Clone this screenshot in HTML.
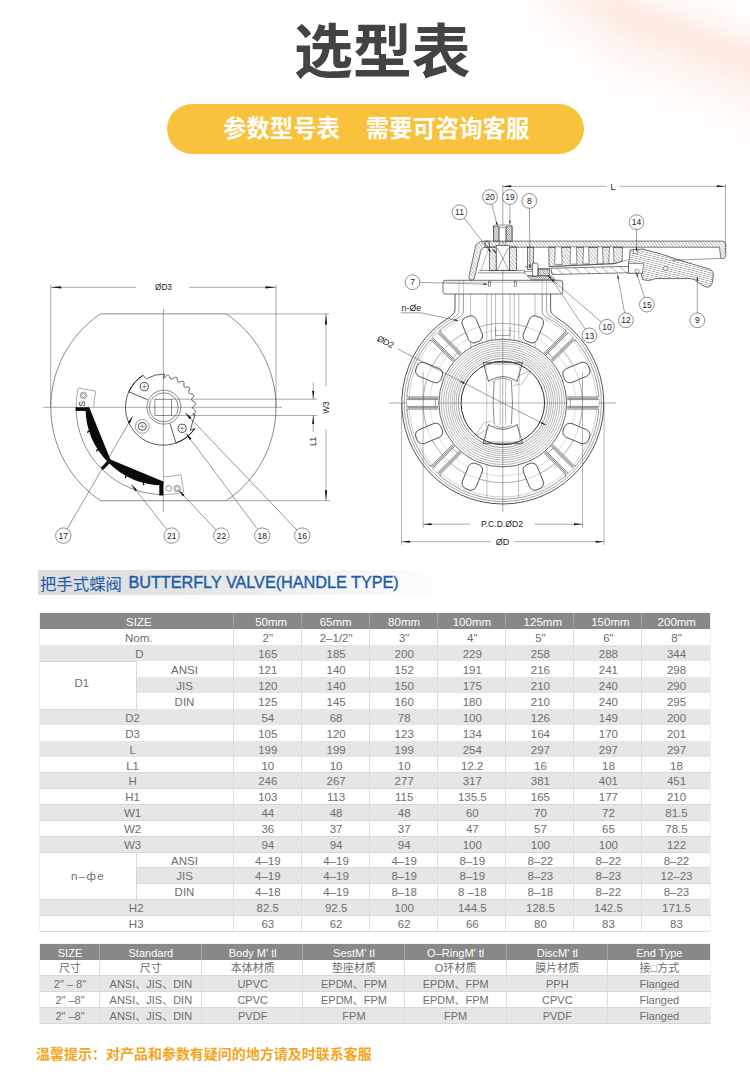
<!DOCTYPE html>
<html><head><meta charset="utf-8"><title>Selection table</title>
<style>
html,body{margin:0;padding:0;background:#fff;}
body{width:750px;height:1092px;position:relative;overflow:hidden;font-family:"Liberation Sans","Noto Sans CJK SC",sans-serif;}
.abs{position:absolute;}
.t{position:absolute;font-size:11.5px;color:#6e6e6e;text-align:center;white-space:nowrap;line-height:16px;height:16px;}
.hd{color:#fff;}
.row{position:absolute;left:40px;width:670px;}
.dg text{font-family:"Liberation Sans",sans-serif;fill:#222;}
</style></head><body>

<svg class="abs" style="left:400px;top:0" width="350" height="220" viewBox="400 0 350 220">
<defs>
<linearGradient id="pk1" gradientUnits="userSpaceOnUse" x1="693.4" y1="-17.5" x2="654.6" y2="85.5">
<stop offset="0" stop-color="#fde3d5" stop-opacity="0"/><stop offset=".28" stop-color="#fde3d5" stop-opacity=".28"/>
<stop offset=".42" stop-color="#fddfcf" stop-opacity=".55"/><stop offset=".55" stop-color="#fddfcf" stop-opacity=".55"/>
<stop offset=".72" stop-color="#fde3d5" stop-opacity=".25"/>
<stop offset="1" stop-color="#fde3d5" stop-opacity="0"/></linearGradient>
<linearGradient id="pk2" gradientUnits="userSpaceOnUse" x1="690" y1="-6" x2="640" y2="126">
<stop offset="0" stop-color="#feeee6" stop-opacity="0"/><stop offset=".45" stop-color="#feeee6" stop-opacity=".4"/>
<stop offset="1" stop-color="#feeee6" stop-opacity="0"/></linearGradient>
<linearGradient id="pkm" gradientUnits="userSpaceOnUse" x1="500" y1="0" x2="620" y2="0">
<stop offset="0" stop-color="#fff" stop-opacity="1"/><stop offset="1" stop-color="#fff" stop-opacity="0"/></linearGradient>
</defs>
<rect x="400" y="0" width="350" height="220" fill="url(#pk2)"/>
<rect x="400" y="0" width="350" height="220" fill="url(#pk1)"/>
<rect x="400" y="0" width="350" height="220" fill="url(#pkm)"/>
</svg>

<svg style="position:absolute;left:294.4px;top:16.07px;overflow:visible" width="176.70" height="71.40" viewBox="0 -56.52 176.70 71.40"><text x="0" y="0" font-size="58.9" font-weight="bold" fill="#434343" font-family="'Liberation Sans','Noto Sans CJK SC',sans-serif">选型表</text></svg>
<div class="abs" style="left:167px;top:104px;width:417px;height:50px;border-radius:25px;background:#f9c23c;"></div>
<svg style="position:absolute;left:222.6px;top:115.37px;overflow:visible" width="308.10" height="28.08" viewBox="0 -22.23 308.10 28.08"><text x="0" y="0" font-size="23.4" font-weight="bold" fill="#ffffff" font-family="'Liberation Sans','Noto Sans CJK SC',sans-serif">参数型号表</text><text x="142.7" y="0" font-size="23.4" font-weight="bold" fill="#ffffff" font-family="'Liberation Sans','Noto Sans CJK SC',sans-serif">需要可咨询客服</text></svg>
<div class="abs" style="left:38px;top:570px;width:420px;height:25px;background:linear-gradient(to right,#dcdcdc 0%,#e4e4e4 35%,#f4f4f4 70%,#ffffff 100%);"></div>
<svg style="position:absolute;left:40.2px;top:574.02px;overflow:visible" width="82.50" height="19.68" viewBox="0 -15.58 82.50 19.68"><text x="0" y="0" font-size="16.4" fill="#1b5ca8" font-family="'Liberation Sans','Noto Sans CJK SC',sans-serif">把手式蝶阀</text></svg>
<div class="abs" id="ttl" style="left:128.4px;top:572.4px;font-size:16.3px;line-height:20px;color:#1b5ca8;white-space:nowrap;letter-spacing:-0.05px;-webkit-text-stroke:0.35px #1b5ca8;">BUTTERFLY VALVE(HANDLE TYPE)</div>
<div class="abs" style="left:39.5px;top:613.3px;width:670.5px;height:318.20px;background:#fff;box-shadow:0 0 0 .5px #e2e2e2;"></div>
<div class="abs" style="left:40.0px;top:613.30px;width:670.0px;height:16.00px;background:#888888;"></div>
<div class="t hd" style="left:42.3px;width:193.0px;top:613.80px;">SIZE</div>
<div class="t hd" style="left:237.0px;width:68.39999999999998px;top:613.80px;">50mm</div>
<div class="t hd" style="left:301.59999999999997px;width:68.20000000000005px;top:613.80px;">65mm</div>
<div class="t hd" style="left:370.1px;width:68.0px;top:613.80px;">80mm</div>
<div class="t hd" style="left:437.8px;width:68.19999999999999px;top:613.80px;">100mm</div>
<div class="t hd" style="left:508.8px;width:67.99999999999994px;top:613.80px;">125mm</div>
<div class="t hd" style="left:576.4px;width:68.0px;top:613.80px;">150mm</div>
<div class="t hd" style="left:642.6999999999999px;width:68.20000000000005px;top:613.80px;">200mm</div>
<div class="abs" style="left:40.0px;top:629.30px;width:670.0px;height:16.00px;background:#ffffff;"></div>
<div class="abs" style="left:40.0px;top:644.70px;width:670.0px;height:.8px;background:#d8d8d8;"></div>
<div class="t" style="left:42.3px;width:193.0px;top:629.80px;">Nom.</div>
<div class="t" style="left:233.6px;width:68.39999999999998px;top:629.80px;">2"</div>
<div class="t" style="left:302.0px;width:68.20000000000005px;top:629.80px;">2–1/2"</div>
<div class="t" style="left:370.20000000000005px;width:68.0px;top:629.80px;">3"</div>
<div class="t" style="left:438.20000000000005px;width:68.19999999999999px;top:629.80px;">4"</div>
<div class="t" style="left:506.40000000000003px;width:67.99999999999994px;top:629.80px;">5"</div>
<div class="t" style="left:574.4px;width:68.0px;top:629.80px;">6"</div>
<div class="t" style="left:642.4px;width:68.20000000000005px;top:629.80px;">8"</div>
<div class="abs" style="left:40.0px;top:645.30px;width:670.0px;height:16.00px;background:#e6e6e6;"></div>
<div class="abs" style="left:40.0px;top:660.70px;width:670.0px;height:.8px;background:#d8d8d8;"></div>
<div class="t" style="left:42.8px;width:193.0px;top:645.80px;">D</div>
<div class="t" style="left:233.6px;width:68.39999999999998px;top:645.80px;">165</div>
<div class="t" style="left:302.0px;width:68.20000000000005px;top:645.80px;">185</div>
<div class="t" style="left:370.20000000000005px;width:68.0px;top:645.80px;">200</div>
<div class="t" style="left:438.20000000000005px;width:68.19999999999999px;top:645.80px;">229</div>
<div class="t" style="left:506.40000000000003px;width:67.99999999999994px;top:645.80px;">258</div>
<div class="t" style="left:574.4px;width:68.0px;top:645.80px;">288</div>
<div class="t" style="left:642.4px;width:68.20000000000005px;top:645.80px;">344</div>
<div class="abs" style="left:136.0px;top:661.30px;width:574.0px;height:16.00px;background:#ffffff;"></div>
<div class="abs" style="left:136.0px;top:676.70px;width:574.0px;height:.8px;background:#d8d8d8;"></div>
<div class="t" style="left:136.0px;width:97.0px;top:661.80px;">ANSI</div>
<div class="t" style="left:233.6px;width:68.39999999999998px;top:661.80px;">121</div>
<div class="t" style="left:302.0px;width:68.20000000000005px;top:661.80px;">140</div>
<div class="t" style="left:370.20000000000005px;width:68.0px;top:661.80px;">152</div>
<div class="t" style="left:438.20000000000005px;width:68.19999999999999px;top:661.80px;">191</div>
<div class="t" style="left:506.40000000000003px;width:67.99999999999994px;top:661.80px;">216</div>
<div class="t" style="left:574.4px;width:68.0px;top:661.80px;">241</div>
<div class="t" style="left:642.4px;width:68.20000000000005px;top:661.80px;">298</div>
<div class="abs" style="left:136.0px;top:677.30px;width:574.0px;height:16.00px;background:#e6e6e6;"></div>
<div class="abs" style="left:136.0px;top:692.70px;width:574.0px;height:.8px;background:#d8d8d8;"></div>
<div class="t" style="left:136.0px;width:97.0px;top:677.80px;">JIS</div>
<div class="t" style="left:233.6px;width:68.39999999999998px;top:677.80px;">120</div>
<div class="t" style="left:302.0px;width:68.20000000000005px;top:677.80px;">140</div>
<div class="t" style="left:370.20000000000005px;width:68.0px;top:677.80px;">150</div>
<div class="t" style="left:438.20000000000005px;width:68.19999999999999px;top:677.80px;">175</div>
<div class="t" style="left:506.40000000000003px;width:67.99999999999994px;top:677.80px;">210</div>
<div class="t" style="left:574.4px;width:68.0px;top:677.80px;">240</div>
<div class="t" style="left:642.4px;width:68.20000000000005px;top:677.80px;">290</div>
<div class="abs" style="left:136.0px;top:693.30px;width:574.0px;height:16.00px;background:#ffffff;"></div>
<div class="abs" style="left:136.0px;top:708.70px;width:574.0px;height:.8px;background:#d8d8d8;"></div>
<div class="t" style="left:136.0px;width:97.0px;top:693.80px;">DIN</div>
<div class="t" style="left:233.6px;width:68.39999999999998px;top:693.80px;">125</div>
<div class="t" style="left:302.0px;width:68.20000000000005px;top:693.80px;">145</div>
<div class="t" style="left:370.20000000000005px;width:68.0px;top:693.80px;">160</div>
<div class="t" style="left:438.20000000000005px;width:68.19999999999999px;top:693.80px;">180</div>
<div class="t" style="left:506.40000000000003px;width:67.99999999999994px;top:693.80px;">210</div>
<div class="t" style="left:574.4px;width:68.0px;top:693.80px;">240</div>
<div class="t" style="left:642.4px;width:68.20000000000005px;top:693.80px;">295</div>
<div class="abs" style="left:40.0px;top:709.30px;width:670.0px;height:16.00px;background:#e6e6e6;"></div>
<div class="abs" style="left:40.0px;top:724.70px;width:670.0px;height:.8px;background:#d8d8d8;"></div>
<div class="t" style="left:36.1px;width:193.0px;top:709.80px;">D2</div>
<div class="t" style="left:233.6px;width:68.39999999999998px;top:709.80px;">54</div>
<div class="t" style="left:302.0px;width:68.20000000000005px;top:709.80px;">68</div>
<div class="t" style="left:370.20000000000005px;width:68.0px;top:709.80px;">78</div>
<div class="t" style="left:438.20000000000005px;width:68.19999999999999px;top:709.80px;">100</div>
<div class="t" style="left:506.40000000000003px;width:67.99999999999994px;top:709.80px;">126</div>
<div class="t" style="left:574.4px;width:68.0px;top:709.80px;">149</div>
<div class="t" style="left:642.4px;width:68.20000000000005px;top:709.80px;">200</div>
<div class="abs" style="left:40.0px;top:725.30px;width:670.0px;height:16.00px;background:#ffffff;"></div>
<div class="abs" style="left:40.0px;top:740.70px;width:670.0px;height:.8px;background:#d8d8d8;"></div>
<div class="t" style="left:36.1px;width:193.0px;top:725.80px;">D3</div>
<div class="t" style="left:233.6px;width:68.39999999999998px;top:725.80px;">105</div>
<div class="t" style="left:302.0px;width:68.20000000000005px;top:725.80px;">120</div>
<div class="t" style="left:370.20000000000005px;width:68.0px;top:725.80px;">123</div>
<div class="t" style="left:438.20000000000005px;width:68.19999999999999px;top:725.80px;">134</div>
<div class="t" style="left:506.40000000000003px;width:67.99999999999994px;top:725.80px;">164</div>
<div class="t" style="left:574.4px;width:68.0px;top:725.80px;">170</div>
<div class="t" style="left:642.4px;width:68.20000000000005px;top:725.80px;">201</div>
<div class="abs" style="left:40.0px;top:741.30px;width:670.0px;height:16.00px;background:#e6e6e6;"></div>
<div class="abs" style="left:40.0px;top:756.70px;width:670.0px;height:.8px;background:#d8d8d8;"></div>
<div class="t" style="left:36.1px;width:193.0px;top:741.80px;">L</div>
<div class="t" style="left:233.6px;width:68.39999999999998px;top:741.80px;">199</div>
<div class="t" style="left:302.0px;width:68.20000000000005px;top:741.80px;">199</div>
<div class="t" style="left:370.20000000000005px;width:68.0px;top:741.80px;">199</div>
<div class="t" style="left:438.20000000000005px;width:68.19999999999999px;top:741.80px;">254</div>
<div class="t" style="left:506.40000000000003px;width:67.99999999999994px;top:741.80px;">297</div>
<div class="t" style="left:574.4px;width:68.0px;top:741.80px;">297</div>
<div class="t" style="left:642.4px;width:68.20000000000005px;top:741.80px;">297</div>
<div class="abs" style="left:40.0px;top:757.30px;width:670.0px;height:15.60px;background:#ffffff;"></div>
<div class="abs" style="left:40.0px;top:772.30px;width:670.0px;height:.8px;background:#d8d8d8;"></div>
<div class="t" style="left:36.1px;width:193.0px;top:757.60px;">L1</div>
<div class="t" style="left:233.6px;width:68.39999999999998px;top:757.60px;">10</div>
<div class="t" style="left:302.0px;width:68.20000000000005px;top:757.60px;">10</div>
<div class="t" style="left:370.20000000000005px;width:68.0px;top:757.60px;">10</div>
<div class="t" style="left:438.20000000000005px;width:68.19999999999999px;top:757.60px;">12.2</div>
<div class="t" style="left:506.40000000000003px;width:67.99999999999994px;top:757.60px;">16</div>
<div class="t" style="left:574.4px;width:68.0px;top:757.60px;">18</div>
<div class="t" style="left:642.4px;width:68.20000000000005px;top:757.60px;">18</div>
<div class="abs" style="left:40.0px;top:772.90px;width:670.0px;height:15.60px;background:#e6e6e6;"></div>
<div class="abs" style="left:40.0px;top:787.90px;width:670.0px;height:.8px;background:#d8d8d8;"></div>
<div class="t" style="left:36.1px;width:193.0px;top:773.20px;">H</div>
<div class="t" style="left:233.6px;width:68.39999999999998px;top:773.20px;">246</div>
<div class="t" style="left:302.0px;width:68.20000000000005px;top:773.20px;">267</div>
<div class="t" style="left:370.20000000000005px;width:68.0px;top:773.20px;">277</div>
<div class="t" style="left:438.20000000000005px;width:68.19999999999999px;top:773.20px;">317</div>
<div class="t" style="left:506.40000000000003px;width:67.99999999999994px;top:773.20px;">381</div>
<div class="t" style="left:574.4px;width:68.0px;top:773.20px;">401</div>
<div class="t" style="left:642.4px;width:68.20000000000005px;top:773.20px;">451</div>
<div class="abs" style="left:40.0px;top:788.50px;width:670.0px;height:16.00px;background:#ffffff;"></div>
<div class="abs" style="left:40.0px;top:803.90px;width:670.0px;height:.8px;background:#d8d8d8;"></div>
<div class="t" style="left:36.1px;width:193.0px;top:789.00px;">H1</div>
<div class="t" style="left:233.6px;width:68.39999999999998px;top:789.00px;">103</div>
<div class="t" style="left:302.0px;width:68.20000000000005px;top:789.00px;">113</div>
<div class="t" style="left:370.20000000000005px;width:68.0px;top:789.00px;">115</div>
<div class="t" style="left:438.20000000000005px;width:68.19999999999999px;top:789.00px;">135.5</div>
<div class="t" style="left:506.40000000000003px;width:67.99999999999994px;top:789.00px;">165</div>
<div class="t" style="left:574.4px;width:68.0px;top:789.00px;">177</div>
<div class="t" style="left:642.4px;width:68.20000000000005px;top:789.00px;">210</div>
<div class="abs" style="left:40.0px;top:804.50px;width:670.0px;height:16.00px;background:#e6e6e6;"></div>
<div class="abs" style="left:40.0px;top:819.90px;width:670.0px;height:.8px;background:#d8d8d8;"></div>
<div class="t" style="left:36.1px;width:193.0px;top:805.00px;">W1</div>
<div class="t" style="left:233.6px;width:68.39999999999998px;top:805.00px;">44</div>
<div class="t" style="left:302.0px;width:68.20000000000005px;top:805.00px;">48</div>
<div class="t" style="left:370.20000000000005px;width:68.0px;top:805.00px;">48</div>
<div class="t" style="left:438.20000000000005px;width:68.19999999999999px;top:805.00px;">60</div>
<div class="t" style="left:506.40000000000003px;width:67.99999999999994px;top:805.00px;">70</div>
<div class="t" style="left:574.4px;width:68.0px;top:805.00px;">72</div>
<div class="t" style="left:642.4px;width:68.20000000000005px;top:805.00px;">81.5</div>
<div class="abs" style="left:40.0px;top:820.50px;width:670.0px;height:16.00px;background:#ffffff;"></div>
<div class="abs" style="left:40.0px;top:835.90px;width:670.0px;height:.8px;background:#d8d8d8;"></div>
<div class="t" style="left:36.1px;width:193.0px;top:821.00px;">W2</div>
<div class="t" style="left:233.6px;width:68.39999999999998px;top:821.00px;">36</div>
<div class="t" style="left:302.0px;width:68.20000000000005px;top:821.00px;">37</div>
<div class="t" style="left:370.20000000000005px;width:68.0px;top:821.00px;">37</div>
<div class="t" style="left:438.20000000000005px;width:68.19999999999999px;top:821.00px;">47</div>
<div class="t" style="left:506.40000000000003px;width:67.99999999999994px;top:821.00px;">57</div>
<div class="t" style="left:574.4px;width:68.0px;top:821.00px;">65</div>
<div class="t" style="left:642.4px;width:68.20000000000005px;top:821.00px;">78.5</div>
<div class="abs" style="left:40.0px;top:836.50px;width:670.0px;height:16.00px;background:#e6e6e6;"></div>
<div class="abs" style="left:40.0px;top:851.90px;width:670.0px;height:.8px;background:#d8d8d8;"></div>
<div class="t" style="left:36.1px;width:193.0px;top:837.00px;">W3</div>
<div class="t" style="left:233.6px;width:68.39999999999998px;top:837.00px;">94</div>
<div class="t" style="left:302.0px;width:68.20000000000005px;top:837.00px;">94</div>
<div class="t" style="left:370.20000000000005px;width:68.0px;top:837.00px;">94</div>
<div class="t" style="left:438.20000000000005px;width:68.19999999999999px;top:837.00px;">100</div>
<div class="t" style="left:506.40000000000003px;width:67.99999999999994px;top:837.00px;">100</div>
<div class="t" style="left:574.4px;width:68.0px;top:837.00px;">100</div>
<div class="t" style="left:642.4px;width:68.20000000000005px;top:837.00px;">122</div>
<div class="abs" style="left:136.0px;top:852.50px;width:574.0px;height:15.50px;background:#ffffff;"></div>
<div class="abs" style="left:136.0px;top:867.40px;width:574.0px;height:.8px;background:#d8d8d8;"></div>
<div class="t" style="left:136.0px;width:97.0px;top:852.75px;">ANSI</div>
<div class="t" style="left:233.6px;width:68.39999999999998px;top:852.75px;">4–19</div>
<div class="t" style="left:302.0px;width:68.20000000000005px;top:852.75px;">4–19</div>
<div class="t" style="left:370.20000000000005px;width:68.0px;top:852.75px;">4–19</div>
<div class="t" style="left:438.20000000000005px;width:68.19999999999999px;top:852.75px;">8–19</div>
<div class="t" style="left:506.40000000000003px;width:67.99999999999994px;top:852.75px;">8–22</div>
<div class="t" style="left:574.4px;width:68.0px;top:852.75px;">8–22</div>
<div class="t" style="left:642.4px;width:68.20000000000005px;top:852.75px;">8–22</div>
<div class="abs" style="left:136.0px;top:868.00px;width:574.0px;height:15.50px;background:#e6e6e6;"></div>
<div class="abs" style="left:136.0px;top:882.90px;width:574.0px;height:.8px;background:#d8d8d8;"></div>
<div class="t" style="left:136.0px;width:97.0px;top:868.25px;">JIS</div>
<div class="t" style="left:233.6px;width:68.39999999999998px;top:868.25px;">4–19</div>
<div class="t" style="left:302.0px;width:68.20000000000005px;top:868.25px;">4–19</div>
<div class="t" style="left:370.20000000000005px;width:68.0px;top:868.25px;">8–19</div>
<div class="t" style="left:438.20000000000005px;width:68.19999999999999px;top:868.25px;">8–19</div>
<div class="t" style="left:506.40000000000003px;width:67.99999999999994px;top:868.25px;">8–23</div>
<div class="t" style="left:574.4px;width:68.0px;top:868.25px;">8–23</div>
<div class="t" style="left:642.4px;width:68.20000000000005px;top:868.25px;">12–23</div>
<div class="abs" style="left:136.0px;top:883.50px;width:574.0px;height:16.00px;background:#ffffff;"></div>
<div class="abs" style="left:136.0px;top:898.90px;width:574.0px;height:.8px;background:#d8d8d8;"></div>
<div class="t" style="left:136.0px;width:97.0px;top:884.00px;">DIN</div>
<div class="t" style="left:233.6px;width:68.39999999999998px;top:884.00px;">4–18</div>
<div class="t" style="left:302.0px;width:68.20000000000005px;top:884.00px;">4–19</div>
<div class="t" style="left:370.20000000000005px;width:68.0px;top:884.00px;">8–18</div>
<div class="t" style="left:438.20000000000005px;width:68.19999999999999px;top:884.00px;">8 –18</div>
<div class="t" style="left:506.40000000000003px;width:67.99999999999994px;top:884.00px;">8–18</div>
<div class="t" style="left:574.4px;width:68.0px;top:884.00px;">8–22</div>
<div class="t" style="left:642.4px;width:68.20000000000005px;top:884.00px;">8–23</div>
<div class="abs" style="left:40.0px;top:899.50px;width:670.0px;height:16.00px;background:#e6e6e6;"></div>
<div class="abs" style="left:40.0px;top:914.90px;width:670.0px;height:.8px;background:#d8d8d8;"></div>
<div class="t" style="left:39.7px;width:193.0px;top:900.00px;">H2</div>
<div class="t" style="left:233.6px;width:68.39999999999998px;top:900.00px;">82.5</div>
<div class="t" style="left:302.0px;width:68.20000000000005px;top:900.00px;">92.5</div>
<div class="t" style="left:370.20000000000005px;width:68.0px;top:900.00px;">100</div>
<div class="t" style="left:438.20000000000005px;width:68.19999999999999px;top:900.00px;">144.5</div>
<div class="t" style="left:506.40000000000003px;width:67.99999999999994px;top:900.00px;">128.5</div>
<div class="t" style="left:574.4px;width:68.0px;top:900.00px;">142.5</div>
<div class="t" style="left:642.4px;width:68.20000000000005px;top:900.00px;">171.5</div>
<div class="abs" style="left:40.0px;top:915.50px;width:670.0px;height:16.00px;background:#ffffff;"></div>
<div class="abs" style="left:40.0px;top:930.90px;width:670.0px;height:.8px;background:#d8d8d8;"></div>
<div class="t" style="left:39.7px;width:193.0px;top:916.00px;">H3</div>
<div class="t" style="left:233.6px;width:68.39999999999998px;top:916.00px;">63</div>
<div class="t" style="left:302.0px;width:68.20000000000005px;top:916.00px;">62</div>
<div class="t" style="left:370.20000000000005px;width:68.0px;top:916.00px;">62</div>
<div class="t" style="left:438.20000000000005px;width:68.19999999999999px;top:916.00px;">66</div>
<div class="t" style="left:506.40000000000003px;width:67.99999999999994px;top:916.00px;">80</div>
<div class="t" style="left:574.4px;width:68.0px;top:916.00px;">83</div>
<div class="t" style="left:642.4px;width:68.20000000000005px;top:916.00px;">83</div>
<div class="t" style="left:33.8px;width:96.0px;top:674.70px;">D1</div>
<div class="abs" style="left:40.0px;top:708.70px;width:96.0px;height:.8px;background:#d8d8d8;"></div>
<div class="abs" style="left:135.6px;top:661.30px;width:.8px;height:48.00px;background:#d8d8d8;"></div>
<div class="t" style="left:40.0px;width:96.0px;top:868.37px;letter-spacing:1.3px;">n–фe</div>
<div class="abs" style="left:40.0px;top:898.90px;width:96.0px;height:.8px;background:#d8d8d8;"></div>
<div class="abs" style="left:135.6px;top:852.50px;width:.8px;height:47.00px;background:#d8d8d8;"></div>
<div class="abs" style="left:232.5px;top:613.3px;width:1px;height:15.91px;background:#a4a4a4;"></div>
<div class="abs" style="left:232.6px;top:629.21px;width:.8px;height:302.29px;background:#dedede;"></div>
<div class="abs" style="left:300.9px;top:613.3px;width:1px;height:15.91px;background:#a4a4a4;"></div>
<div class="abs" style="left:301.0px;top:629.21px;width:.8px;height:302.29px;background:#dedede;"></div>
<div class="abs" style="left:369.1px;top:613.3px;width:1px;height:15.91px;background:#a4a4a4;"></div>
<div class="abs" style="left:369.20000000000005px;top:629.21px;width:.8px;height:302.29px;background:#dedede;"></div>
<div class="abs" style="left:437.1px;top:613.3px;width:1px;height:15.91px;background:#a4a4a4;"></div>
<div class="abs" style="left:437.20000000000005px;top:629.21px;width:.8px;height:302.29px;background:#dedede;"></div>
<div class="abs" style="left:505.3px;top:613.3px;width:1px;height:15.91px;background:#a4a4a4;"></div>
<div class="abs" style="left:505.40000000000003px;top:629.21px;width:.8px;height:302.29px;background:#dedede;"></div>
<div class="abs" style="left:573.3px;top:613.3px;width:1px;height:15.91px;background:#a4a4a4;"></div>
<div class="abs" style="left:573.4px;top:629.21px;width:.8px;height:302.29px;background:#dedede;"></div>
<div class="abs" style="left:641.3px;top:613.3px;width:1px;height:15.91px;background:#a4a4a4;"></div>
<div class="abs" style="left:641.4px;top:629.21px;width:.8px;height:302.29px;background:#dedede;"></div>
<div class="abs" style="left:39.5px;top:944.3px;width:670.5px;height:79.00px;background:#fff;box-shadow:0 0 0 .5px #e2e2e2;"></div>
<div class="abs" style="left:40px;top:944.30px;width:670px;height:15.80px;background:#888888;"></div>
<div class="t hd" style="left:40.5px;width:59px;top:944.50px;font-size:11px;">SIZE</div>
<div class="t hd" style="left:99.5px;width:102.69999999999999px;top:944.50px;font-size:11px;">Standard</div>
<div class="t hd" style="left:202.2px;width:101.0px;top:944.50px;font-size:11px;">Body M' tl</div>
<div class="t hd" style="left:303.2px;width:101.60000000000002px;top:944.50px;font-size:11px;">SestM’ tl</div>
<div class="t hd" style="left:404.8px;width:101.69999999999999px;top:944.50px;font-size:11px;">O–RingM' tl</div>
<div class="t hd" style="left:506.5px;width:101.70000000000005px;top:944.50px;font-size:11px;">DiscM' tl</div>
<div class="t hd" style="left:608.2px;width:102.29999999999995px;top:944.50px;font-size:11px;">End Type</div>
<div class="abs" style="left:40px;top:960.10px;width:670px;height:15.80px;background:#fff;"></div>
<div class="abs" style="left:40px;top:975.30px;width:670px;height:.8px;background:#d8d8d8;"></div>
<div class="t" style="left:40.5px;width:59px;top:960.30px;font-size:11px;">尺寸</div>
<div class="t" style="left:99.5px;width:102.69999999999999px;top:960.30px;font-size:11px;">尺寸</div>
<div class="t" style="left:202.2px;width:101.0px;top:960.30px;font-size:11px;">本体材质</div>
<div class="t" style="left:303.2px;width:101.60000000000002px;top:960.30px;font-size:11px;">垫座材质</div>
<div class="t" style="left:404.8px;width:101.69999999999999px;top:960.30px;font-size:11px;">O环材质</div>
<div class="t" style="left:506.5px;width:101.70000000000005px;top:960.30px;font-size:11px;">膜片材质</div>
<div class="t" style="left:608.2px;width:102.29999999999995px;top:960.30px;font-size:11px;">接□方式</div>
<div class="abs" style="left:40px;top:975.90px;width:670px;height:15.80px;background:#e6e6e6;"></div>
<div class="abs" style="left:40px;top:991.10px;width:670px;height:.8px;background:#d8d8d8;"></div>
<div class="t" style="left:40.5px;width:59px;top:976.10px;font-size:11px;">2" – 8"</div>
<div class="t" style="left:99.5px;width:102.69999999999999px;top:976.10px;font-size:11px;">ANSI、JIS、DIN</div>
<div class="t" style="left:202.2px;width:101.0px;top:976.10px;font-size:11px;">UPVC</div>
<div class="t" style="left:303.2px;width:101.60000000000002px;top:976.10px;font-size:11px;">EPDM、FPM</div>
<div class="t" style="left:404.8px;width:101.69999999999999px;top:976.10px;font-size:11px;">EPDM、FPM</div>
<div class="t" style="left:506.5px;width:101.70000000000005px;top:976.10px;font-size:11px;">PPH</div>
<div class="t" style="left:608.2px;width:102.29999999999995px;top:976.10px;font-size:11px;">Flanged</div>
<div class="abs" style="left:40px;top:991.70px;width:670px;height:15.80px;background:#fff;"></div>
<div class="abs" style="left:40px;top:1006.90px;width:670px;height:.8px;background:#d8d8d8;"></div>
<div class="t" style="left:40.5px;width:59px;top:991.90px;font-size:11px;">2" –8"</div>
<div class="t" style="left:99.5px;width:102.69999999999999px;top:991.90px;font-size:11px;">ANSI、JIS、DIN</div>
<div class="t" style="left:202.2px;width:101.0px;top:991.90px;font-size:11px;">CPVC</div>
<div class="t" style="left:303.2px;width:101.60000000000002px;top:991.90px;font-size:11px;">EPDM、FPM</div>
<div class="t" style="left:404.8px;width:101.69999999999999px;top:991.90px;font-size:11px;">EPDM、FPM</div>
<div class="t" style="left:506.5px;width:101.70000000000005px;top:991.90px;font-size:11px;">CPVC</div>
<div class="t" style="left:608.2px;width:102.29999999999995px;top:991.90px;font-size:11px;">Flanged</div>
<div class="abs" style="left:40px;top:1007.50px;width:670px;height:15.80px;background:#e6e6e6;"></div>
<div class="abs" style="left:40px;top:1022.70px;width:670px;height:.8px;background:#d8d8d8;"></div>
<div class="t" style="left:40.5px;width:59px;top:1007.70px;font-size:11px;">2" –8"</div>
<div class="t" style="left:99.5px;width:102.69999999999999px;top:1007.70px;font-size:11px;">ANSI、JIS、DIN</div>
<div class="t" style="left:202.2px;width:101.0px;top:1007.70px;font-size:11px;">PVDF</div>
<div class="t" style="left:303.2px;width:101.60000000000002px;top:1007.70px;font-size:11px;">FPM</div>
<div class="t" style="left:404.8px;width:101.69999999999999px;top:1007.70px;font-size:11px;">FPM</div>
<div class="t" style="left:506.5px;width:101.70000000000005px;top:1007.70px;font-size:11px;">PVDF</div>
<div class="t" style="left:608.2px;width:102.29999999999995px;top:1007.70px;font-size:11px;">Flanged</div>
<div class="abs" style="left:98.5px;top:944.3px;width:1px;height:15.80px;background:#a4a4a4;"></div>
<div class="abs" style="left:98.6px;top:960.10px;width:.8px;height:63.20px;background:#dedede;"></div>
<div class="abs" style="left:201.2px;top:944.3px;width:1px;height:15.80px;background:#a4a4a4;"></div>
<div class="abs" style="left:201.29999999999998px;top:960.10px;width:.8px;height:63.20px;background:#dedede;"></div>
<div class="abs" style="left:302.2px;top:944.3px;width:1px;height:15.80px;background:#a4a4a4;"></div>
<div class="abs" style="left:302.3px;top:960.10px;width:.8px;height:63.20px;background:#dedede;"></div>
<div class="abs" style="left:403.8px;top:944.3px;width:1px;height:15.80px;background:#a4a4a4;"></div>
<div class="abs" style="left:403.90000000000003px;top:960.10px;width:.8px;height:63.20px;background:#dedede;"></div>
<div class="abs" style="left:505.5px;top:944.3px;width:1px;height:15.80px;background:#a4a4a4;"></div>
<div class="abs" style="left:505.6px;top:960.10px;width:.8px;height:63.20px;background:#dedede;"></div>
<div class="abs" style="left:607.2px;top:944.3px;width:1px;height:15.80px;background:#a4a4a4;"></div>
<div class="abs" style="left:607.3000000000001px;top:960.10px;width:.8px;height:63.20px;background:#dedede;"></div>
<svg style="position:absolute;left:36px;top:1046.30px;overflow:visible" width="336.00" height="16.80" viewBox="0 -13.30 336.00 16.80"><text x="0" y="0" font-size="14" font-weight="bold" fill="#f6a41c" font-family="'Liberation Sans','Noto Sans CJK SC',sans-serif">温馨提示：对产品和参数有疑问的地方请及时联系客服</text></svg>
<svg class="dg abs" style="left:0;top:170px" width="375" height="390" viewBox="0 170 375 390"><g fill="none" stroke="#3c3c3c" stroke-width="0.6" stroke-linecap="butt">
<path d="M100.5,313.9 L226.3,313.9 A112.6,112.6 0 0 1 226.3,500.7 L100.5,500.7 A112.6,112.6 0 0 1 100.5,313.9Z"/>
<g stroke="#555" stroke-width="0.5">
<path d="M226.3,313.9 H329 M226.3,500.7 H330"/>
<path d="M43,407.3 H282 M163.4,309 V512"/>
<path d="M50.7,284.5 V407.3 M276,284.5 V407.3"/>
<path d="M50.7,287.3 H136 M189,287.3 H276"/>
<path d="M171.5,399.2 H317 M171.5,415.5 H317"/>
<path d="M326,313.9 V386 M326,429 V500.7"/>
<path d="M313.2,382.5 V399.2 M313.2,415.5 V432"/>
</g>
<path d="M50.7,287.3 L61.2,286.2 L61.2,288.4Z" fill="#111" stroke="none"/>
<path d="M276.0,287.3 L265.5,288.4 L265.5,286.2Z" fill="#111" stroke="none"/>
<path d="M326.0,313.9 L327.1,324.4 L324.9,324.4Z" fill="#111" stroke="none"/>
<path d="M326.0,500.7 L324.9,490.2 L327.1,490.2Z" fill="#111" stroke="none"/>
<path d="M313.2,399.2 L312.2,390.7 L314.2,390.7Z" fill="#111" stroke="none"/>
<path d="M313.2,415.5 L314.2,424.0 L312.2,424.0Z" fill="#111" stroke="none"/>
<g stroke="none" fill="#222" font-size="8.2">
<text x="163.5" y="290.3" text-anchor="middle">ØD3</text>
<text transform="translate(329.3,407.5) rotate(-90)" text-anchor="middle">W3</text>
<text transform="translate(316.2,441.5) rotate(-90)" text-anchor="middle">L1</text>
</g>
<circle cx="163.9" cy="407.1" r="17.0"/><circle cx="163.70000000000002" cy="407.3" r="14.5"/>
<rect x="154.9" y="399.2" width="16.8" height="16.3"/>
<path stroke-width="0.75" stroke="#222" d="M142.9,375.4 A37.9,37.9 0 1 0 194.8,428.5 L190.4,430.3 L192.8,421.0 L192.8,421.0 A32.4,32.4 0 0 0 195.0,414.6 L192.7,414.1 193.2,413.8 193.9,413.5 194.5,413.2 195.0,412.9 195.4,412.5 195.7,412.1 195.7,411.7 195.7,411.3 195.4,410.8 195.0,410.3 194.6,409.9 194.0,409.4 193.5,409.0 193.1,408.6 192.8,408.2 192.6,407.8 192.6,407.4 192.7,407.0 193.0,406.7 193.4,406.3 193.9,405.8 194.4,405.4 194.9,405.0 195.3,404.5 195.7,404.1 195.8,403.6 195.8,403.2 195.6,402.8 195.2,402.4 194.7,402.1 194.2,401.7 193.6,401.4 193.0,401.2 192.4,400.9 192.0,400.6 191.7,400.2 191.6,399.9 191.6,399.5 191.8,399.0 192.1,398.5 192.5,398.0 192.9,397.4 193.2,396.9 193.5,396.3 193.7,395.8 193.7,395.3 193.6,394.9 193.3,394.6 192.9,394.3 192.3,394.1 191.7,394.0 191.0,393.8 190.4,393.7 189.8,393.6 189.3,393.4 188.9,393.1 188.7,392.8 188.6,392.4 188.7,391.9 188.9,391.4 189.1,390.8 189.3,390.1 189.5,389.5 189.7,388.9 189.7,388.4 189.6,387.9 189.4,387.5 189.0,387.3 188.5,387.1 187.9,387.1 187.3,387.1 186.6,387.1 185.9,387.2 185.3,387.2 184.8,387.2 184.4,387.0 184.1,386.8 183.9,386.4 183.9,385.9 183.9,385.3 183.9,384.7 184.0,384.0 184.0,383.4 184.0,382.7 183.9,382.2 183.7,381.8 183.4,381.5 183.0,381.3 182.4,381.3 181.9,381.4 181.2,381.6 180.6,381.8 180.0,382.1 179.4,382.2 178.9,382.3 178.4,382.3 178.1,382.1 177.8,381.8 177.6,381.3 177.5,380.8 177.4,380.2 177.3,379.5 177.1,378.8 177.0,378.2 176.7,377.7 176.4,377.4 176.0,377.2 175.6,377.2 175.1,377.3 174.5,377.5 174.0,377.9 173.4,378.3 172.9,378.6 172.3,378.9 171.9,379.2 171.4,379.2 171.1,379.2 170.7,378.9 170.4,378.5 170.2,378.0 169.9,377.5 169.6,376.8 169.3,376.2 169.0,375.7 168.6,375.3 168.2,375.0 167.8,375.0 167.4,375.0 166.9,375.3 166.4,375.7 166.0,376.1 165.5,376.7 165.1,377.2 164.7,377.6 164.3,377.9 163.9,378.1 163.5,378.1 L164.6,374.1 A33.2,33.2 0 0 0 146.5,378.7 L142.9,375.4"/>
<path stroke-width="0.75" stroke="#222" d="M128.8,391.8 L147.7,399.8 M176.0,443.0 L170.0,423.6"/>
<path stroke-width="1.0" stroke="#222" d="M142.9,375.4 A37.9,37.9 0 0 0 128.8,391.8"/>
<path stroke-width="1.0" stroke="#222" d="M176.0,443.0 A37.9,37.9 0 0 0 194.8,428.5"/>
<circle cx="144.3" cy="386.6" r="4.1" stroke-width="0.8" stroke="#222"/><path stroke-width="0.45" d="M141.8,386.6 H146.8 M144.3,384.1 V389.1"/>
<circle cx="182.1" cy="428.3" r="4.1" stroke-width="0.8" stroke="#222"/><path stroke-width="0.45" d="M179.6,428.3 H184.6 M182.1,425.8 V430.8"/>
<circle cx="142.3" cy="426.4" r="6.9" stroke-width="0.5"/>
<circle cx="142.3" cy="426.4" r="4.0" stroke-width="0.8" stroke="#222"/><path stroke-width="0.45" d="M139.8,426.4 H144.8 M142.3,423.9 V428.9"/>
<path stroke="#444" stroke-width="0.6" d="M76.1,407.3 A87.3,87.3 0 0 0 163.4,494.6"/>
<path stroke="#666" stroke-width="0.55" d="M76.1,407.3 L76.1,407.3 A87.3,87.3 0 0 1 78.2,388.1 L95.8,391.1 L95.8,391.1 A69.5,69.5 0 0 0 93.9,407.3"/>
<path stroke="#666" stroke-width="0.55" d="M163.4,476.8 L163.4,476.8 A69.5,69.5 0 0 0 180.8,474.6 L183.8,492.2 L183.8,492.2 A87.3,87.3 0 0 1 163.4,494.6"/>
<circle cx="83.5" cy="395.4" r="3.3" stroke="#555"/><circle cx="83.5" cy="395.4" r="1.9" stroke="#555" stroke-width=".5"/>
<text transform="translate(85.4,403.6) rotate(-90)" font-size="8.4" text-anchor="middle" stroke="none" fill="#111">S</text>
<circle cx="168.8" cy="488.4" r="2.9" stroke="#555"/><circle cx="177.3" cy="488.6" r="3.3" stroke="#555"/><circle cx="177.3" cy="488.6" r="1.9" stroke="#555" stroke-width=".5"/>
<g fill="#0a0a0a" stroke="none">
<rect x="75.6" y="407.3" width="13.6" height="3.6"/>
<path d="M89.3,407.6 L85.5,407.7 L85.5,407.7 A77.9,77.9 0 0 0 108.3,462.4 L110.4,459.6 Z"/>
<path d="M110.4,459.6 L108.3,462.4 L108.3,462.4 A77.9,77.9 0 0 0 163.0,485.2 L163.3,481.6 Z"/>
<rect x="159.3" y="481.4" width="4.0" height="14.1"/>
<path d="M109.6,458.8 L111.9,461.1 L103.0,470.0 L100.7,467.7Z"/>
<path d="M89.6,430.6 L87.2,432.5" stroke="#0a0a0a" stroke-width="1.3" fill="none"/>
<path d="M98.1,448.9 L96.3,451.4" stroke="#0a0a0a" stroke-width="1.3" fill="none"/>
<path d="M125.9,475.0 L125.5,478.1" stroke="#0a0a0a" stroke-width="1.3" fill="none"/>
<path d="M143.4,482.1 L143.7,485.1" stroke="#0a0a0a" stroke-width="1.3" fill="none"/>
</g>
<g stroke="#444" stroke-width="0.55">
<path d="M67.2,528.9 L132.7,416.3"/><path d="M132.7,416.3 L129.9,423.4 L127.9,422.2Z" fill="#111" stroke="none"/>
<path d="M166.9,529.6 L131.5,484.6"/><path d="M131.5,484.6 L137.0,489.8 L135.2,491.2Z" fill="#111" stroke="none"/>
<path d="M216.1,530.0 L178.6,490.2"/><path d="M178.6,490.2 L184.6,494.9 L182.9,496.4Z" fill="#111" stroke="none"/>
<path d="M257.6,529.4 L186.0,433.2"/><path d="M186.0,433.2 L191.4,438.5 L189.6,439.9Z" fill="#111" stroke="none"/>
<path d="M296.9,530.0 L185.4,413.0"/><path d="M185.4,413.0 L191.4,417.6 L189.7,419.2Z" fill="#111" stroke="none"/>
</g>
<g stroke="#444" stroke-width="0.6">
<circle cx="63.3" cy="535.6" r="7.7" fill="#fff"/><text x="63.3" y="538.7" font-size="8.6" text-anchor="middle" stroke="none" fill="#151515">17</text>
<circle cx="171.7" cy="535.6" r="7.7" fill="#fff"/><text x="171.7" y="538.7" font-size="8.6" text-anchor="middle" stroke="none" fill="#151515">21</text>
<circle cx="221.4" cy="535.6" r="7.7" fill="#fff"/><text x="221.4" y="538.7" font-size="8.6" text-anchor="middle" stroke="none" fill="#151515">22</text>
<circle cx="262.2" cy="535.6" r="7.7" fill="#fff"/><text x="262.2" y="538.7" font-size="8.6" text-anchor="middle" stroke="none" fill="#151515">18</text>
<circle cx="302.2" cy="535.6" r="7.7" fill="#fff"/><text x="302.2" y="538.7" font-size="8.6" text-anchor="middle" stroke="none" fill="#151515">16</text>
</g>
</g></svg>
<svg class="dg abs" style="left:375px;top:170px" width="375" height="390" viewBox="375 170 375 390"><defs>
<pattern id="h45" width="2.5" height="2.5" patternUnits="userSpaceOnUse" patternTransform="rotate(54)"><path d="M0,0 H2.5" stroke="#333" stroke-width="0.6"/></pattern>
<pattern id="h45b" width="2.0" height="2.0" patternUnits="userSpaceOnUse" patternTransform="rotate(-54)"><path d="M0,0 H2.0" stroke="#3a3a3a" stroke-width="0.55"/></pattern>
<pattern id="h45d" width="1.6" height="1.6" patternUnits="userSpaceOnUse" patternTransform="rotate(50)"><path d="M0,0 H1.6" stroke="#222" stroke-width="0.75"/></pattern>
<pattern id="hw" width="6.2" height="6.2" patternUnits="userSpaceOnUse" patternTransform="rotate(42)"><path d="M0,0 H6.2" stroke="#3a3a3a" stroke-width="0.6"/></pattern>
<pattern id="hl" width="2.1" height="2.1" patternUnits="userSpaceOnUse" patternTransform="rotate(14)"><path d="M0,0 H2.1" stroke="#333" stroke-width="0.62"/></pattern>
</defs>
<g fill="none" stroke="#3c3c3c" stroke-width="0.6">
<path stroke="#555" stroke-width="0.5" d="M389,403.0 H616 M502.8,185 V512"/>
<g stroke="#555" stroke-width="0.5">
<path stroke="#333" stroke-width="0.8" d="M455.0,294 V309.5 Q455.0,313.6 452.2,314.9 L450.0,316.9 M550.6,294 V309.5 Q550.6,313.6 553.4,314.9 L555.6,316.9"/>
<path stroke="#444" stroke-width="0.45" d="M459.0,294 V309.5 Q459.0,313.6 457.8,314.4 L455.6,316.4 M546.6,294 V309.5 Q546.6,313.6 547.8,314.4 L550.0,316.4"/>
<path stroke="#444" stroke-width="0.55" d="M463.4,294 V309.5 Q463.4,313.6 462.4,314.8 L460.2,316.8 M542.2,294 V309.5 Q542.2,313.6 543.2,314.8 L545.4,316.8"/>
<path stroke-width="0.4" d="M470.5,294 V347.7 M535.1,294 V347.7"/>
<path stroke-width="0.4" d="M486.8,294 V341.0 M518.8,294 V341.0"/>
<path stroke-width="0.4" d="M491.4,294 V340.0 M514.2,294 V340.0"/>
<path stroke-width="0.4" d="M495.6,294 V339.4 M510.0,294 V339.4"/>
<path stroke-width="0.5" d="M495.6,327 V335.5 H510 V327"/>
</g>
<path d="M450.0,316.9 A101.0,101.0 0 1 0 555.6,316.9" stroke-width="0.85" stroke="#333"/>
<path d="M455.6,316.4 A98.6,98.6 0 1 0 550.0,316.4" stroke-width="0.45"/>
<path d="M460.2,316.8 A96.2,96.2 0 1 0 545.4,316.8" stroke-width="0.5"/>
<path d="M463.9,317.6 A93.9,93.9 0 1 0 541.7,317.6" stroke-width="0.35" stroke="#777"/>
<circle cx="502.8" cy="403.0" r="79.7" stroke-width="0.35" stroke="#666"/>
<circle cx="502.8" cy="403.0" r="72.8" stroke-width="0.3" stroke="#888"/>
<g transform="translate(502.8,403.0) rotate(0)">
<rect x="64.5" y="-6.1" width="31.5" height="12.2" fill="#fff" stroke="none"/>
<rect x="64.5" y="-6.1" width="31.5" height="2.7" fill="#e9e9e9" stroke="none"/><rect x="64.5" y="3.4" width="31.5" height="2.7" fill="#e9e9e9" stroke="none"/>
<path stroke-width="0.55" d="M64.5,-6.1 H94.6 L96.2,-7.6 M64.5,6.1 H94.6 L96.2,7.6 M64.5,-3.4 H96.1 M64.5,3.4 H96.1 M64.5,-4.7 H95.2 M64.5,4.7 H95.2"/>
<path stroke-width="0.5" d="M67.5,-3.4 V3.4"/>
</g>
<g transform="translate(502.8,403.0) rotate(-45)">
<rect x="64.5" y="-6.1" width="31.5" height="12.2" fill="#fff" stroke="none"/>
<rect x="64.5" y="-6.1" width="31.5" height="2.7" fill="#e9e9e9" stroke="none"/><rect x="64.5" y="3.4" width="31.5" height="2.7" fill="#e9e9e9" stroke="none"/>
<path stroke-width="0.55" d="M64.5,-6.1 H94.6 L96.2,-7.6 M64.5,6.1 H94.6 L96.2,7.6 M64.5,-3.4 H96.1 M64.5,3.4 H96.1 M64.5,-4.7 H95.2 M64.5,4.7 H95.2"/>
<path stroke-width="0.5" d="M67.5,-3.4 V3.4"/>
</g>
<g transform="translate(502.8,403.0) rotate(-135)">
<rect x="64.5" y="-6.1" width="31.5" height="12.2" fill="#fff" stroke="none"/>
<rect x="64.5" y="-6.1" width="31.5" height="2.7" fill="#e9e9e9" stroke="none"/><rect x="64.5" y="3.4" width="31.5" height="2.7" fill="#e9e9e9" stroke="none"/>
<path stroke-width="0.55" d="M64.5,-6.1 H94.6 L96.2,-7.6 M64.5,6.1 H94.6 L96.2,7.6 M64.5,-3.4 H96.1 M64.5,3.4 H96.1 M64.5,-4.7 H95.2 M64.5,4.7 H95.2"/>
<path stroke-width="0.5" d="M67.5,-3.4 V3.4"/>
</g>
<g transform="translate(502.8,403.0) rotate(-180)">
<rect x="64.5" y="-6.1" width="31.5" height="12.2" fill="#fff" stroke="none"/>
<rect x="64.5" y="-6.1" width="31.5" height="2.7" fill="#e9e9e9" stroke="none"/><rect x="64.5" y="3.4" width="31.5" height="2.7" fill="#e9e9e9" stroke="none"/>
<path stroke-width="0.55" d="M64.5,-6.1 H94.6 L96.2,-7.6 M64.5,6.1 H94.6 L96.2,7.6 M64.5,-3.4 H96.1 M64.5,3.4 H96.1 M64.5,-4.7 H95.2 M64.5,4.7 H95.2"/>
<path stroke-width="0.5" d="M67.5,-3.4 V3.4"/>
</g>
<g transform="translate(502.8,403.0) rotate(-225)">
<rect x="64.5" y="-6.1" width="31.5" height="12.2" fill="#fff" stroke="none"/>
<rect x="64.5" y="-6.1" width="31.5" height="2.7" fill="#e9e9e9" stroke="none"/><rect x="64.5" y="3.4" width="31.5" height="2.7" fill="#e9e9e9" stroke="none"/>
<path stroke-width="0.55" d="M64.5,-6.1 H94.6 L96.2,-7.6 M64.5,6.1 H94.6 L96.2,7.6 M64.5,-3.4 H96.1 M64.5,3.4 H96.1 M64.5,-4.7 H95.2 M64.5,4.7 H95.2"/>
<path stroke-width="0.5" d="M67.5,-3.4 V3.4"/>
</g>
<g transform="translate(502.8,403.0) rotate(-315)">
<rect x="64.5" y="-6.1" width="31.5" height="12.2" fill="#fff" stroke="none"/>
<rect x="64.5" y="-6.1" width="31.5" height="2.7" fill="#e9e9e9" stroke="none"/><rect x="64.5" y="3.4" width="31.5" height="2.7" fill="#e9e9e9" stroke="none"/>
<path stroke-width="0.55" d="M64.5,-6.1 H94.6 L96.2,-7.6 M64.5,6.1 H94.6 L96.2,7.6 M64.5,-3.4 H96.1 M64.5,3.4 H96.1 M64.5,-4.7 H95.2 M64.5,4.7 H95.2"/>
<path stroke-width="0.5" d="M67.5,-3.4 V3.4"/>
</g>
<g transform="translate(502.8,403.0) rotate(-22.5)"><rect x="66.2" y="-7.4" width="27" height="14.8" rx="5.6" fill="#fff" stroke="#333" stroke-width="0.75"/></g>
<g transform="translate(502.8,403.0) rotate(-67.5)"><rect x="66.2" y="-7.4" width="27" height="14.8" rx="5.6" fill="#fff" stroke="#333" stroke-width="0.75"/></g>
<g transform="translate(502.8,403.0) rotate(-112.5)"><rect x="66.2" y="-7.4" width="27" height="14.8" rx="5.6" fill="#fff" stroke="#333" stroke-width="0.75"/></g>
<g transform="translate(502.8,403.0) rotate(-157.5)"><rect x="66.2" y="-7.4" width="27" height="14.8" rx="5.6" fill="#fff" stroke="#333" stroke-width="0.75"/></g>
<g transform="translate(502.8,403.0) rotate(-202.5)"><rect x="66.2" y="-7.4" width="27" height="14.8" rx="5.6" fill="#fff" stroke="#333" stroke-width="0.75"/></g>
<g transform="translate(502.8,403.0) rotate(-247.5)"><rect x="66.2" y="-7.4" width="27" height="14.8" rx="5.6" fill="#fff" stroke="#333" stroke-width="0.75"/></g>
<g transform="translate(502.8,403.0) rotate(-292.5)"><rect x="66.2" y="-7.4" width="27" height="14.8" rx="5.6" fill="#fff" stroke="#333" stroke-width="0.75"/></g>
<g transform="translate(502.8,403.0) rotate(-337.5)"><rect x="66.2" y="-7.4" width="27" height="14.8" rx="5.6" fill="#fff" stroke="#333" stroke-width="0.75"/></g>
<circle cx="502.8" cy="403.0" r="79.7" stroke-width="0.3" stroke="#777"/>
<path stroke-width="0.4" stroke="#666" d="M486.9,464.5 V497.6 M518.5,464.5 V497.6"/>
<circle cx="502.8" cy="403.0" r="63.9" fill="#fff" stroke-width="0.75" stroke="#333"/>
<circle cx="502.8" cy="403.0" r="61.7" stroke-width="0.42" stroke="#555"/>
<circle cx="502.8" cy="403.0" r="59.4" stroke-width="0.42" stroke="#555"/>
<circle cx="502.8" cy="403.0" r="57.1" stroke-width="0.42" stroke="#555"/>
<circle cx="502.8" cy="403.0" r="54.9" stroke-width="0.42" stroke="#555"/>
<circle cx="502.8" cy="403.0" r="52.8" stroke-width="0.42" stroke="#555"/>
<circle cx="502.8" cy="403.0" r="50.7" stroke-width="0.42" stroke="#555"/>
<circle cx="502.8" cy="403.0" r="48.7" stroke-width="0.42" stroke="#555"/>
<circle cx="502.8" cy="403.0" r="46.8" stroke-width="0.42" stroke="#555"/>
<circle cx="502.8" cy="403.0" r="44.6" stroke-width="0.55" stroke="#444"/>
<circle cx="502.8" cy="403.0" r="41.8" stroke-width="1.0" stroke="#2a2a2a"/>
<path stroke="#555" stroke-width="0.45" d="M438.8,403.0 H566.8 M502.8,339.0 V467.0"/>
<path stroke-width="0.7" stroke="#333" d="M483.0,362.4 H522.6 L517.0,381.8 Q516.4,379.8 514.2,379.8 Q502.8,373.3 491.4,379.8 Q489.2,379.8 488.6,381.8 Z"/><path stroke-width="0.5" d="M493.8,381.0 Q502.8,375.6 511.8,381.0"/><path stroke-width="0.45" d="M483.0,364.0 H522.6"/>
<path stroke-width="0.7" stroke="#333" d="M483.0,443.6 H522.6 L517.0,424.2 Q516.4,426.2 514.2,426.2 Q502.8,432.7 491.4,426.2 Q489.2,426.2 488.6,424.2 Z"/><path stroke-width="0.5" d="M493.8,425.0 Q502.8,430.4 511.8,425.0"/><path stroke-width="0.45" d="M483.0,442.0 H522.6"/>
<path stroke-width="0.6" d="M494.2,381.0 Q492.0,403.0 494.2,424.0 M511.4,381.0 Q513.6,403.0 511.4,424.0"/>
<path stroke-width="0.4" stroke="#666" d="M500.2,379.0 V425.0 M505.6,379.0 V425.0"/>
<path stroke-width="0.4" stroke="#777" d="M486.0,365.0 Q487.8,403.0 486.0,441.0 M519.6,365.0 Q517.8,403.0 519.6,441.0"/>
<path stroke-width="0.4" stroke="#666" d="M516.8,377.0 L530.8,370.0 M513.3,385.5 L521.8,384.0 L529.8,372.0 M488.8,429.0 L474.8,436.0 M492.3,421.0 L483.8,423.0 L475.8,434.0"/>
<path stroke="#444" stroke-width="0.5" d="M397.4,348.8 L546.2,425.3"/>
<path d="M459.4,380.7 L464.7,382.4 L463.9,384.0Z" fill="#111" stroke="none"/>
<path d="M546.2,425.3 L540.9,423.6 L541.7,422.0Z" fill="#111" stroke="none"/>
<text transform="translate(376.4,340.4) rotate(27.2)" font-size="8.6" stroke="none" fill="#222">ØD2</text>
<rect x="443" y="280.3" width="119.7" height="13.7" rx="2.2" fill="#fff" stroke-width="0.7" stroke="#333"/>
<path stroke-width="0.4" stroke="#666" d="M443.5,282.2 H562.2"/>
<path stroke-width="0.4" stroke="#777" d="M459,281 V294 M463.4,281 V294 M542.2,281 V294 M546.6,281 V294 M502.8,280 V294"/>
<rect x="488.7" y="281.6" width="1.8" height="4.6" stroke-width="0.5"/><rect x="514.5" y="281.6" width="1.8" height="4.6" stroke-width="0.5"/>
<g stroke="#333" stroke-width="0.65">
<path fill="url(#h45)" d="M485,241.1 H722.4 Q725.7,241.1 725.7,244.2 V255.6 Q725.7,258.6 722.6,258.6 H721 L719.4,247.2 H485 Z"/>
<path fill="url(#h45)" d="M489.4,241.1 H484 Q477,241.6 475.6,246 L468.8,277.4 Q468.6,280.3 471.2,280.2 L474,279.5 L481,250.6 Q481.8,247.2 485.6,247.2 H489.4 Z"/>
<rect x="489.3" y="247.0" width="7" height="23.4" fill="url(#h45)"/>
<rect x="509.6" y="247.0" width="6.8" height="23.4" fill="url(#h45)"/>
<path stroke-width="1.1" stroke="#222" d="M496.5,250 V270.2 M509.2,247 V270.2 M492.6,249.3 L496.4,253.2"/>
<rect x="496.2" y="245.4" width="13.4" height="25" fill="#fff"/>
<path stroke-width="0.45" d="M497.4,248 L508.4,269.6 M508.4,248 L497.4,269.6"/>
<path d="M494.4,225.1 H511.2 L512.1,226.2 V241.1 H493.5 V226.2 Z" fill="#fff" stroke-width="0.55"/>
<rect x="493.5" y="226.4" width="5.2" height="14.7" fill="url(#h45d)" stroke-width="0.45"/><rect x="506.4" y="226.4" width="5.7" height="14.7" fill="url(#h45d)" stroke-width="0.45"/>
<path d="M499.4,227.2 V245.4 M505.7,227.2 V245.4 M498.7,227.2 H506.4" stroke-width="0.5"/>
<path d="M479.2,270.4 H524.5 V272.9 H477.8" stroke-width="0.55"/>
<path d="M488.6,248 L480.8,271.4" stroke-width="0.4" stroke="#555"/>
<rect x="527.4" y="247.2" width="6.0" height="22.2" fill="url(#h45)"/>
<path fill="url(#h45)" d="M548.8,247.2 H622.4 L622.2,261.2 L614.4,263.6 L549,266.6 Z"/>
<path d="M555.3,247.2 L554.6,264.3 H562.2 L561.5,247.2" fill="#fff" stroke-width="0.55"/>
<path d="M570.7,247.2 L570.0,264.1 H577.0 L576.3,247.2" fill="#fff" stroke-width="0.55"/>
<path d="M583.6,247.2 L582.9,263.9 H589.2 L588.5,247.2" fill="#fff" stroke-width="0.55"/>
<path d="M597.8,247.2 L597.1,263.7 H603.2 L602.5,247.2" fill="#fff" stroke-width="0.55"/>
<path d="M609.5,247.2 L608.8,263.5 H614.1 L613.4,247.2" fill="#fff" stroke-width="0.55"/>
<path stroke-width="0.45" d="M549,266.6 L614,263.8 L628,259.6"/>
<path fill="url(#hw)" d="M551,268.3 L628.4,266.3 L628.4,272.8 L552,274.5 Z"/>
<path stroke-width="0.45" d="M533.4,269.4 H549"/>
<path fill="#fff" d="M532.6,263.2 H536.2 Q538,263.2 538,265.4 V274.4 Q538,276.4 536.2,276.4 H532.6 Z"/>
<rect x="538" y="268.3" width="11.8" height="7.5" fill="url(#h45d)" stroke-width="0.5"/>
<path stroke-width="0.5" d="M524.5,271.6 H532.6 M524.5,272.9 L527,275.6 H532.6 M524.5,266.8 H532.6"/>
<path fill="url(#h45d)" stroke-width="0.5" d="M527.5,276 H551.5 L555.5,279.8 H531 Z"/>
<path stroke-width="0.5" d="M720.8,258.3 L672,260.4"/>
<path fill="url(#hl)" stroke-width="0.7" d="M630.2,250 L642.6,249 L662.8,254.6 L686.8,262.4 L708.5,268.8 Q713.6,270.6 713.4,275 L712.4,282.4 Q711,288 706.4,287 Q702,286 698.5,282.6 Q695,278.8 690.5,278.6 H655.5 Q651,280.6 647.8,280.4 L642.4,279.6 L641.4,273.2 H628.5 V263.6 L629.4,258 Z"/>
<path fill="#fff" stroke-width="0.55" d="M628.5,263.4 H643.6 L642.4,273.2 H628.5 Z"/>
<circle cx="637.2" cy="271.2" r="2.0" fill="#fff" stroke-width="0.5"/>
<circle cx="665.7" cy="268.5" r="2.2" fill="#fff" stroke-width="0.55"/>
<rect x="633.6" y="249.6" width="4" height="4.2" fill="#fff" stroke-width="0.45"/>
</g>
<g stroke="#555" stroke-width="0.5">
<path d="M502.8,186.3 H606.5 M620,186.3 H725.4 M725.4,184 V252"/>
<path d="M401.5,403 V545 M604.1,403 V545 M423.1,372 V528 M582.5,372 V528" stroke-width="0.45"/>
<path d="M401.5,541.7 H491 M514.5,541.7 H604.1 M423.1,524.2 H470 M534.5,524.2 H582.5"/>
</g>
<path d="M502.8,186.3 L511.3,185.3 L511.3,187.3Z" fill="#111" stroke="none"/>
<path d="M725.4,186.3 L716.9,187.3 L716.9,185.3Z" fill="#111" stroke="none"/>
<path d="M401.5,541.7 L410.0,540.7 L410.0,542.7Z" fill="#111" stroke="none"/>
<path d="M604.1,541.7 L595.6,542.7 L595.6,540.7Z" fill="#111" stroke="none"/>
<path d="M423.1,524.2 L431.6,523.2 L431.6,525.2Z" fill="#111" stroke="none"/>
<path d="M582.5,524.2 L574.0,525.2 L574.0,523.2Z" fill="#111" stroke="none"/>
<g stroke="none" fill="#222" font-size="8.6">
<text x="613" y="189.6" text-anchor="middle" font-size="9">L</text>
<text x="502.6" y="544.9" text-anchor="middle" font-size="9">ØD</text>
<text x="502" y="527.3" text-anchor="middle">P.C.D.ØD2</text>
<text x="401.6" y="310.8" font-size="8.8">n-Øe</text>
</g>
<path stroke="#444" stroke-width="0.5" d="M400.8,312.8 H420.8 L457.2,320.4"/>
<path d="M458.6,320.7 L454.5,320.7 L454.9,319.1Z" fill="#111" stroke="none"/>
<g stroke="#444" stroke-width="0.5">
<path d="M491.8,204.2 L497.4,226.0"/><path d="M497.4,226.0 L495.6,222.3 L497.2,221.9Z" fill="#111" stroke="none"/>
<path d="M509.9,204.4 L509.9,224.6"/><path d="M509.9,224.6 L509.1,220.6 L510.7,220.6Z" fill="#111" stroke="none"/>
<path d="M529.4,208.3 L530.0,268.5"/><path d="M530.0,268.5 L529.2,264.5 L530.8,264.5Z" fill="#111" stroke="none"/>
<path d="M464.1,218.1 L491.0,252.5"/><path d="M491.0,252.5 L487.9,249.8 L489.2,248.9Z" fill="#111" stroke="none"/>
<path d="M419.9,282.4 L487.6,284.2"/><path d="M487.6,284.2 L483.6,284.9 L483.6,283.3Z" fill="#111" stroke="none"/>
<path d="M636.5,229.6 L636.5,251.5"/><path d="M636.5,251.5 L635.7,247.5 L637.3,247.5Z" fill="#111" stroke="none"/>
<path d="M644.6,297.6 L636.4,272.6"/><path d="M636.4,272.6 L638.4,276.2 L636.9,276.7Z" fill="#111" stroke="none"/>
<path d="M624.6,313.0 L617.6,274.8"/><path d="M617.6,274.8 L619.1,278.6 L617.5,278.9Z" fill="#111" stroke="none"/>
<path d="M697.3,312.9 L697.3,276.5"/><path d="M697.3,276.5 L698.1,280.5 L696.5,280.5Z" fill="#111" stroke="none"/>
<path d="M601.3,322.0 L547.4,275.6"/><path d="M547.4,275.6 L551.0,277.6 L549.9,278.8Z" fill="#111" stroke="none"/>
<path d="M585.3,329.3 L551.0,278.2"/><path d="M551.0,278.2 L553.9,281.1 L552.6,282.0Z" fill="#111" stroke="none"/>
</g>
<g stroke="#444" stroke-width="0.6">
<circle cx="490.0" cy="197.0" r="7.4" fill="#fff"/><text x="490.0" y="200.1" font-size="8.5" text-anchor="middle" stroke="none" fill="#151515">20</text>
<circle cx="509.9" cy="197.0" r="7.4" fill="#fff"/><text x="509.9" y="200.1" font-size="8.5" text-anchor="middle" stroke="none" fill="#151515">19</text>
<circle cx="529.3" cy="200.9" r="7.4" fill="#fff"/><text x="529.3" y="204.0" font-size="8.5" text-anchor="middle" stroke="none" fill="#151515">8</text>
<circle cx="459.5" cy="212.3" r="7.4" fill="#fff"/><text x="459.5" y="215.4" font-size="8.5" text-anchor="middle" stroke="none" fill="#151515">11</text>
<circle cx="412.5" cy="282.2" r="7.4" fill="#fff"/><text x="412.5" y="285.3" font-size="8.5" text-anchor="middle" stroke="none" fill="#151515">7</text>
<circle cx="636.5" cy="222.2" r="7.4" fill="#fff"/><text x="636.5" y="225.3" font-size="8.5" text-anchor="middle" stroke="none" fill="#151515">14</text>
<circle cx="646.9" cy="304.6" r="7.4" fill="#fff"/><text x="646.9" y="307.7" font-size="8.5" text-anchor="middle" stroke="none" fill="#151515">15</text>
<circle cx="625.9" cy="320.3" r="7.4" fill="#fff"/><text x="625.9" y="323.4" font-size="8.5" text-anchor="middle" stroke="none" fill="#151515">12</text>
<circle cx="697.3" cy="320.3" r="7.4" fill="#fff"/><text x="697.3" y="323.4" font-size="8.5" text-anchor="middle" stroke="none" fill="#151515">9</text>
<circle cx="606.9" cy="326.8" r="7.4" fill="#fff"/><text x="606.9" y="329.9" font-size="8.5" text-anchor="middle" stroke="none" fill="#151515">10</text>
<circle cx="589.4" cy="335.4" r="7.4" fill="#fff"/><text x="589.4" y="338.5" font-size="8.5" text-anchor="middle" stroke="none" fill="#151515">13</text>
</g>
</g></svg>
</body></html>
